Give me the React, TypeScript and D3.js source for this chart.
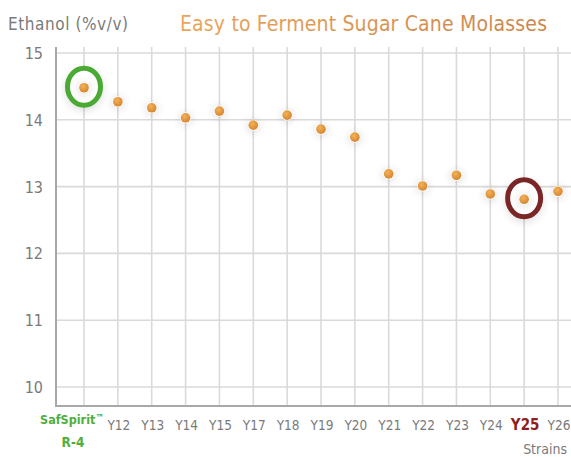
import * as d3 from "d3";

const strains = ["SafSpirit™ R-4", "Y12", "Y13", "Y14", "Y15", "Y17", "Y18", "Y19", "Y20", "Y21", "Y22", "Y23", "Y24", "Y25", "Y26"];
const ethanol = [14.48, 14.27, 14.18, 14.03, 14.13, 13.92, 14.07, 13.86, 13.74, 13.19, 13.01, 13.17, 12.89, 12.81, 12.93];
const yTicks = [10, 11, 12, 13, 14, 15];

const W = 571;
const H = 457;
const font = "'DejaVu Sans Condensed', 'DejaVu Sans', sans-serif";

export default function App() {
  const x = d3.scalePoint<string>().domain(strains).range([84, 558]);
  const y = d3.scaleLinear().domain([10, 15]).range([387, 53]);
  const left = 56;
  const top = 47;
  const bottom = 406;

  const ref = strains[0];
  const hl = "Y25";

  return (
    <svg
      width={W}
      height={H}
      style={{ position: "absolute", left: 0, top: 0, background: "#fff" }}
    >
      <defs>
        <radialGradient id="dot" cx="40%" cy="35%" r="70%">
          <stop offset="0%" stopColor="#f2b25a" />
          <stop offset="100%" stopColor="#d5822a" />
        </radialGradient>
        <linearGradient id="title" x1="0" x2="1">
          <stop offset="0%" stopColor="#eaa55c" />
          <stop offset="100%" stopColor="#c9864e" />
        </linearGradient>
        <filter id="soft" x="-50%" y="-50%" width="200%" height="200%">
          <feGaussianBlur stdDeviation="4" />
        </filter>
      </defs>

      <text x={8} y={30} fontFamily={font} fontSize={17} fill="#7a7a7a" textLength={120}>
        Ethanol (%v/v)
      </text>
      <text x={180} y={31} fontFamily={font} fontSize={21} fill="url(#title)" textLength={367}>
        Easy to Ferment Sugar Cane Molasses
      </text>

      {/* grid */}
      {yTicks.map((t) => (
        <line key={t} x1={left} x2={W} y1={y(t)} y2={y(t)} stroke="#dadada" strokeWidth={1.6} />
      ))}
      {strains.map((s) => (
        <line key={s} x1={x(s)} x2={x(s)} y1={top} y2={bottom} stroke="#dadada" strokeWidth={1.6} />
      ))}

      {/* axes */}
      <line x1={left} x2={left} y1={top} y2={bottom + 1} stroke="#a8a8a8" strokeWidth={2} />
      <line x1={left} x2={W} y1={bottom} y2={bottom} stroke="#a8a8a8" strokeWidth={2} />

      {yTicks.map((t) => (
        <text key={t} x={43} y={y(t) + 6} textAnchor="end" fontFamily={font} fontSize={16} fill="#7a7a7a">
          {t}
        </text>
      ))}

      {strains.map((s) => {
        if (s === ref) {
          const [a, b] = s.split(" ");
          const cx = x(s)! - 12;
          return (
            <text key={s} textAnchor="middle" fontFamily={font} fontSize={12.5} fontWeight="bold" fill="#4fae3c">
              <tspan x={cx} y={424}>{a.replace("™", "")}<tspan fontSize={9.5} dy={-3}>™</tspan></tspan>
              <tspan x={cx + 1} y={447} fontSize={13.5}>{b}</tspan>
            </text>
          );
        }
        const isHl = s === hl;
        return (
          <text
            key={s}
            x={x(s)! + 1}
            y={430}
            textAnchor="middle"
            fontFamily={font}
            fontSize={isHl ? 15 : 13.5}
            fontWeight={isHl ? "bold" : "normal"}
            fill={isHl ? "#8e1d1d" : "#7a7a7a"}
          >
            {s}
          </text>
        );
      })}
      <text x={567} y={454} textAnchor="end" fontFamily={font} fontSize={14} fill="#7a7a7a">
        Strains
      </text>

      {/* highlight rings */}
      {[
        { s: ref, c: "#4aaa34" },
        { s: hl, c: "#7b2626" },
      ].map(({ s, c }) => {
        const i = strains.indexOf(s);
        const cx = x(s)!;
        const cy = y(ethanol[i]) - 1;
        return (
          <g key={s}>
            <ellipse cx={cx} cy={cy + 3} rx={19} ry={21} fill="#000" opacity={0.12} filter="url(#soft)" />
            <ellipse cx={cx} cy={cy} rx={16.5} ry={18.5} fill="#fff" stroke={c} strokeWidth={5} />
          </g>
        );
      })}

      {/* dots */}
      {strains.map((s, i) => (
        <g key={s}>
          <circle cx={x(s)} cy={y(ethanol[i]) + 1} r={6.5} fill="#000" opacity={0.12} filter="url(#soft)" />
          <circle cx={x(s)} cy={y(ethanol[i])} r={5.5} fill="#fff" />
          <circle cx={x(s)} cy={y(ethanol[i])} r={4.8} fill="url(#dot)" />
        </g>
      ))}
    </svg>
  );
}
